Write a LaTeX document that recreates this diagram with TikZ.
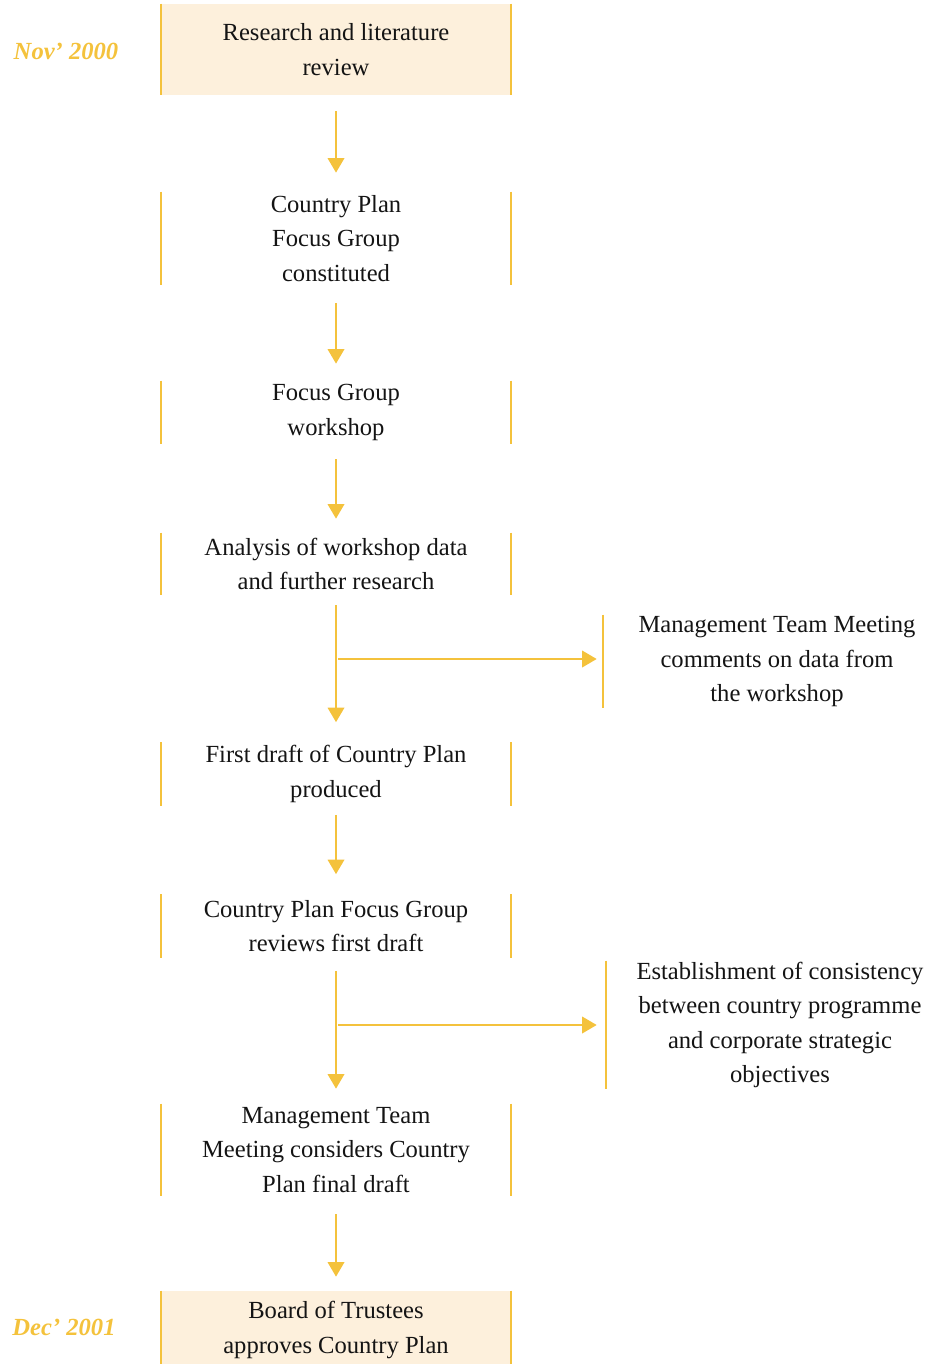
\documentclass[tikz,border=0pt]{standalone}
\usepackage{fontspec}
\setmainfont{Liberation Serif}
\usepackage{xcolor}
\usepackage{tikz}
\usetikzlibrary{arrows.meta,positioning}
\definecolor{gold}{HTML}{F4C23C}
\definecolor{cream}{HTML}{FDF0DC}
\definecolor{ink}{HTML}{141414}
\tikzset{
  stage/.style={inner xsep=0pt, inner ysep=0pt, minimum width=6.98cm, align=center, text=ink, font=\fontsize{14}{19.6}\selectfont},
  side/.style={stage, minimum width=6.96cm},
  hl/.style={fill=cream},
  edge/.style={draw=gold, line width=1pt},
  flow/.style={draw=gold, line width=1.1pt, -{Triangle[length=2.9mm, width=3.3mm]}, shorten <=0.32cm, shorten >=0.38cm},
  when/.style={text=gold, font=\fontsize{14}{16}\selectfont\bfseries\itshape},
}

\begin{document}
\begin{tikzpicture}[x=0.02cm, y=-0.02cm]
\useasboundingbox (0,0) rectangle (947,1364);
% main column
\node[stage, hl, minimum height=1.82cm] (research) at (336,49.5) {Research and literature\\review};
\node[stage, minimum height=1.86cm] (focus) at (336,238.5) {Country Plan\\Focus Group\\constituted};
\node[stage, minimum height=1.26cm] (workshop) at (336,412.5) {Focus Group\\workshop};
\node[stage, minimum height=1.24cm] (analysis) at (336,564) {Analysis of workshop data\\and further research};
\node[stage, minimum height=1.26cm] (draft) at (336,774) {First draft of Country Plan\\produced};
\node[stage, minimum height=1.26cm] (review) at (336,926) {Country Plan Focus Group\\reviews first draft};
\node[stage, minimum height=1.84cm] (final) at (336,1150) {Management Team\\Meeting considers Country\\Plan final draft};
\node[stage, hl, minimum height=1.56cm] (board) at (336,1330) {Board of Trustees\\approves Country Plan};
% side notes
\node[side, minimum height=1.86cm] (mtm) at (777,661.5) {Management Team Meeting\\comments on data from\\the workshop};
\node[side, minimum height=2.56cm] (consist) at (780,1025) {Establishment of consistency\\between country programme\\and corporate strategic\\objectives};
% dates
\node[when] (start) at (66,51) {Nov’ 2000};
\node[when] (finish) at (64,1327) {Dec’ 2001};

\foreach \n in {research,focus,workshop,analysis,draft,review,final,board}
  \draw[edge] (\n.north west) -- (\n.south west) (\n.north east) -- (\n.south east);
\foreach \n in {mtm,consist}
  \draw[edge] (\n.north west) -- (\n.south west);

\draw[flow] (research) -- (focus);
\draw[flow, shorten <=0.36cm, shorten >=0.34cm] (focus) -- (workshop);
\draw[flow, shorten <=0.3cm, shorten >=0.28cm] (workshop) -- (analysis);
\draw[flow, shorten <=0.2cm, shorten >=0.4cm] (analysis) -- (draft);
\draw[flow, shorten <=0.18cm, shorten >=0.4cm] (draft) -- (review);
\draw[flow, shorten <=0.26cm, shorten >=0.3cm] (review) -- (final);
\draw[flow, shorten <=0.36cm, shorten >=0.28cm] (final) -- (board);

\coordinate (b1) at (338,659);
\coordinate (b2) at (338,1025);
\draw[flow, shorten <=0pt, shorten >=0.12cm] (b1) -- (b1 -| mtm.west);
\draw[flow, shorten <=0pt, shorten >=0.18cm] (b2) -- (b2 -| consist.west);
\end{tikzpicture}
\end{document}
